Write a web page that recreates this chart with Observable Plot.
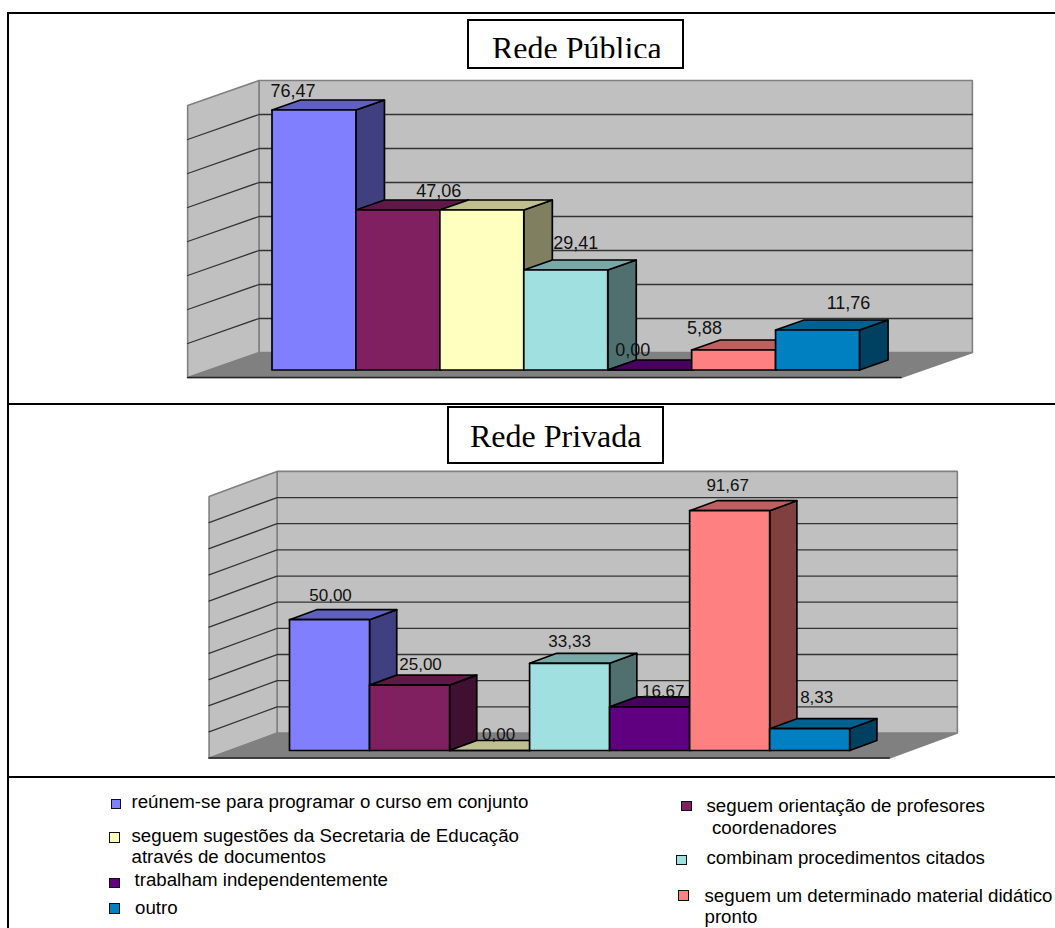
<!DOCTYPE html>
<html lang="pt">
<head>
<meta charset="utf-8">
<title>Rede Pública e Rede Privada</title>
<script src="https://cdn.jsdelivr.net/npm/d3@7"></script>
<script src="https://cdn.jsdelivr.net/npm/@observablehq/plot@0.6"></script>
<style>
  html, body { margin: 0; padding: 0; background: #fff; }
  #page { position: relative; width: 1055px; height: 928px; overflow: hidden; background: #fff; }
  #page svg { position: absolute; left: 0; background: transparent; }
  .rule { position: absolute; background: #000; }
  .title { position: absolute; box-sizing: border-box; border: 2px solid #000; background: #fff;
           font-family: "Liberation Serif", serif; font-size: 32px; color: #000; overflow: hidden; }
  .title span { position: absolute; white-space: nowrap; line-height: 36px; }
  .title .clip { position: absolute; left: 0; right: 0; top: 0; overflow: hidden; }
  .swatch { position: absolute; box-sizing: border-box; border: 1.5px solid #111; }
  .entry { position: absolute; font-family: "Liberation Sans", Arial, sans-serif; font-size: 18.7px;
           line-height: 20px; white-space: nowrap; color: #000; }
</style>
</head>
<body>
<div id="page"></div>
<script>
// Percentages per category, in the order the bars stand
const categorias = [
  "reúnem-se para programar o curso em conjunto",
  "seguem orientação de profesores coordenadores",
  "seguem sugestões da Secretaria de Educação através de documentos",
  "combinam procedimentos citados",
  "trabalham independentemente",
  "seguem um determinado material didático pronto",
  "outro"
];
const redePublica = [76.47, 47.06, 47.06, 29.41, 0, 5.88, 11.76];
const redePrivada = [50, 25, 0, 33.33, 16.67, 91.67, 8.33];

// Face shades of each bar: front, top, side
const frente = ["#8080ff", "#802060", "#ffffc0", "#a0e0e0", "#600080", "#ff8080", "#0080c0"];
const topo   = ["#6060c0", "#601848", "#bfbf90", "#78a8a8", "#480060", "#bf6060", "#006090"];
const lado   = ["#404080", "#401030", "#808060", "#507070", "#300040", "#804040", "#004060"];

// Pixel nudges of the value labels away from the centre of each bar's top edge;
// null leaves a bar unlabelled where its neighbour already states the same value
const nudgePublica = [[-21, -19], null, [-43, -19], [10, -27], [-17, -19.5], [-29, -21.5], [31, -27]];
const nudgePrivada = [[1, -24], [11, -21], [9, -16], [0, -22], [13.6, -15], [-2, -25], [7, -31.5]];

const page = document.getElementById("page");

// One oblique bar panel: bars sit on the front plane, walls stand behind them
function painel({valores, nudge, axisMax, top, height, xRange, base, pxPerUnit, fontSize}) {
  const run = 0.34;                     // sideways shift of one bar depth, in bar widths
  const rise = 10 / pxPerUnit;          // upward shift of one bar depth, in value units
  const at = (i, v, depth) => ({x: i + depth * run, y: v + depth * rise});
  const face = (id, fill, pts) => [...pts, pts[0]].map(p => ({...p, id, fill}));

  const [iMin, iMax] = [-0.75, 7.75];
  const [dFront, dBack] = [-0.75, 1.75];

  const parede = [
    ...face("piso", "#808080", [at(iMin, 0, dFront), at(iMax, 0, dFront), at(iMax, 0, dBack), at(iMin, 0, dBack)]),
    ...face("fundo", "#c0c0c0", [at(iMin, 0, dBack), at(iMax, 0, dBack), at(iMax, axisMax, dBack), at(iMin, axisMax, dBack)]),
    ...face("esquerda", "#c0c0c0", [at(iMin, 0, dFront), at(iMin, 0, dBack), at(iMin, axisMax, dBack), at(iMin, axisMax, dFront)])
  ];

  const linhas = d3.range(10, axisMax, 10).flatMap(v => [
    {...at(iMin, v, dFront), v}, {...at(iMin, v, dBack), v}, {...at(iMax, v, dBack), v}
  ]);

  const barras = valores.flatMap((v, i) => [
    ...face(`lado${i}`, lado[i], [at(i + 1, 0, 0), at(i + 1, 0, 1), at(i + 1, v, 1), at(i + 1, v, 0)]),
    ...face(`topo${i}`, topo[i], [at(i, v, 0), at(i + 1, v, 0), at(i + 1, v, 1), at(i, v, 1)]),
    ...face(`frente${i}`, frente[i], [at(i, 0, 0), at(i + 1, 0, 0), at(i + 1, v, 0), at(i, v, 0)])
  ]);

  const pitch = (xRange[1] - xRange[0]) / 7;
  const rotulos = valores.flatMap((v, i) => !nudge[i] ? [] : [{
    x: i + 0.5 + nudge[i][0] / pitch,
    y: v - nudge[i][1] / pxPerUnit,
    label: v.toFixed(2).replace(".", ",")
  }]);

  const chart = Plot.plot({
    width: 1055,
    height,
    margin: 0,
    style: {background: "transparent", overflow: "visible"},
    x: {axis: null, domain: [0, 7], range: xRange},
    y: {axis: null, domain: [0, axisMax], range: [base, base - axisMax * pxPerUnit]},
    color: {type: "identity"},
    marks: [
      Plot.line(parede, {x: "x", y: "y", z: "id", fill: "fill", stroke: "#808080", strokeWidth: 1.6, strokeLinejoin: "miter"}),
      Plot.line(linhas, {x: "x", y: "y", z: "v", stroke: "#333", strokeWidth: 1.3}),
      Plot.line([at(iMin, 0, dFront), at(iMax, 0, dFront)], {x: "x", y: "y", stroke: "#222", strokeWidth: 1.4}),
      Plot.line(barras, {x: "x", y: "y", z: "id", fill: "fill", stroke: "#000", strokeWidth: 1.7, strokeLinejoin: "round"}),
      Plot.text(rotulos, {x: "x", y: "y", text: "label", fontSize, fontFamily: "Liberation Sans, Arial, sans-serif", fill: "#111", textAnchor: "middle", lineAnchor: "middle"})
    ]
  });
  chart.style.top = `${top}px`;
  page.append(chart);
}

painel({valores: redePublica, nudge: nudgePublica, axisMax: 80, top: 0, height: 404,
        xRange: [271.5, 859], base: 369.5, pxPerUnit: 3.4, fontSize: 18});
painel({valores: redePrivada, nudge: nudgePrivada, axisMax: 100, top: 404, height: 372,
        xRange: [289, 849.2], base: 346, pxPerUnit: 2.616, fontSize: 17});

// Table rules around the two panels and the key
[
  [8, 12, 1047, 2], [8, 403, 1047, 2], [8, 776, 1047, 2], [7, 12, 2, 916]
].forEach(([l, t, w, h]) => {
  const d = document.createElement("div");
  d.className = "rule";
  d.style.cssText = `left:${l}px;top:${t}px;width:${w}px;height:${h}px`;
  page.append(d);
});

// Boxed panel titles; the first one's lettering is cut by its frame's inner clip
function titulo(texto, left, top, width, height, textLeft, textTop, clipHeight) {
  const box = document.createElement("div");
  box.className = "title";
  box.style.cssText = `left:${left}px;top:${top}px;width:${width}px;height:${height}px`;
  const clip = document.createElement("div");
  clip.className = "clip";
  clip.style.height = `${clipHeight}px`;
  const s = document.createElement("span");
  s.textContent = texto;
  s.style.cssText = `left:${textLeft}px;top:${textTop}px`;
  clip.append(s);
  box.append(clip);
  page.append(box);
}
titulo("Rede Pública", 467, 19, 217, 50, 23, 9, 37);
titulo("Rede Privada", 447, 406, 217, 58, 21, 10, 54);

// Key: swatch box [left, top, w, h], then lines of text [left, baseline y, string]
const chaves = [
  [0, [110.5, 798.5, 10.5, 10.5], [[131.5, 808, "reúnem-se para programar o curso em conjunto"]]],
  [1, [681, 800.5, 10.5, 10.5], [[706.5, 812.5, "seguem orientação de profesores"], [712, 834.5, "coordenadores"]]],
  [2, [109, 832, 10.5, 10.5], [[131.5, 842, "seguem sugestões da Secretaria de Educação"], [131.5, 863, "através de documentos"]]],
  [3, [676, 854.5, 10.5, 10.5], [[706.5, 864, "combinam procedimentos citados"]]],
  [4, [109, 877.5, 11, 10], [[134.5, 886, "trabalham independentemente"]]],
  [5, [678, 890, 10.5, 10.5], [[704.5, 902, "seguem um determinado material didático"], [704.5, 923.5, "pronto"]]],
  [6, [109, 903, 11, 10.5], [[135, 914, "outro"]]]
];
chaves.forEach(([i, [l, t, w, h], linhas]) => {
  const sw = document.createElement("div");
  sw.className = "swatch";
  sw.style.cssText = `left:${l}px;top:${t}px;width:${w}px;height:${h}px;background:${frente[i]}`;
  page.append(sw);
  linhas.forEach(([x, y, s]) => {
    const e = document.createElement("div");
    e.className = "entry";
    e.textContent = s;
    e.style.cssText = `left:${x}px;top:${y - 16.5}px`;
    page.append(e);
  });
});
</script>
</body>
</html>
